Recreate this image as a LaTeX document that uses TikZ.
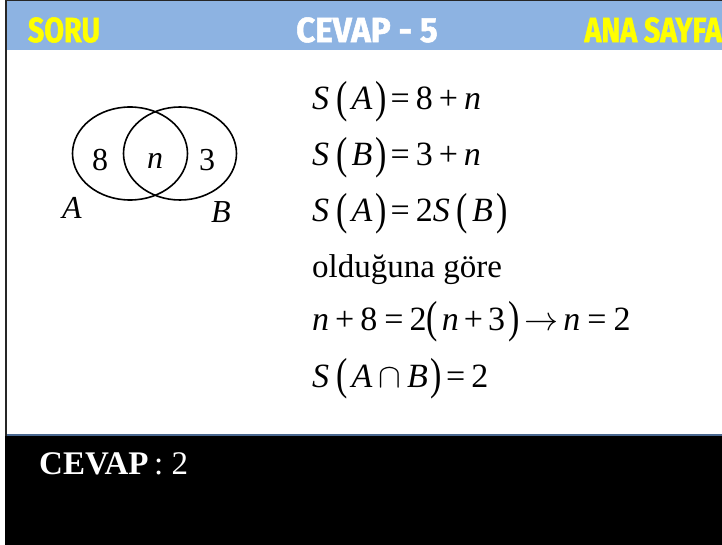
\RequirePackage{fix-cm}
\documentclass[tikz,border=0pt]{standalone}
\usepackage{graphicx}
\usepackage{fontspec}
\setmainfont{Liberation Serif}
\newfontfamily\headfont{Fira Sans}[FakeStretch=0.95, FakeBold=1.5]
\usetikzlibrary{shapes.geometric}

\definecolor{barblue}{HTML}{8DB3E2}
\definecolor{ruleblue}{HTML}{4A6890}
\definecolor{headyellow}{HTML}{FFFF00}

% büyük parantezler ve küçük boşluk
\newcommand{\lpar}{\raisebox{-2.5pt}{\scalebox{1}[1.32]{(}}}
\newcommand{\rpar}{\raisebox{-2.5pt}{\scalebox{1}[1.32]{)}}}
\newcommand{\vi}[1]{\textit{#1}}
\newcommand{\bs}[1]{\kern#1pt}
\newcommand{\dar}[1]{\scalebox{0.86}[1]{#1}}

\begin{document}
\begin{tikzpicture}[x=1pt, y=-1pt,
    head/.style={inner sep=0, font=\headfont\bfseries\fontsize{35}{40}\selectfont},
    venn/.style={ellipse, draw, line width=1.6pt, inner sep=0,
        minimum width=115pt, minimum height=93pt},
    venlab/.style={inner sep=0, font=\fontsize{32}{38}\selectfont},
    eq/.style={anchor=base west, inner sep=0, font=\fontsize{34}{40}\selectfont}]
    \useasboundingbox (0,0) rectangle (722,545);

    % Üst şerit ve çerçeve
    \fill[barblue] (7,0) rectangle (722,50);
    \fill[black!85] (5,0) rectangle (722,1);
    \fill[black!85] (5,0) rectangle (7,436);
    \fill[ruleblue] (7,434) rectangle (722,436);
    \fill[black] (5,436) rectangle (722,545);

    \node[head, text=headyellow] (soru) at (64,30) {\dar{SORU}};
    \node[head, text=white] (cevapno) at (367,30) {CEVAP - 5};
    \node[head, text=headyellow, anchor=east] (anasayfa) at (722,30) {\dar{ANA SAYFA}};

    % Venn şeması
    \node[venn] (setA) at (130,153.5) {};
    \node[venn, minimum width=113pt] (setB) at (180,153.5) {};
    \node[venlab] (sekiz) at (100,160) {8};
    \node[venlab] (kesisim) at (155,161) {\vi{n}};
    \node[venlab] (uc) at (207,160) {3};
    \node[venlab] (etA) at (72,208) {\vi{A}};
    \node[venlab] (etB) at (221,212) {\vi{B}};

    % Çözüm adımları
    \node[eq] (satir1) at (312,110)
        {\vi{S}\bs7\lpar\bs4\vi{A}\bs3\rpar\bs4=\bs6 8\bs6+\bs6\vi{n}};
    \node[eq] (satir2) at (312,166)
        {\vi{S}\bs7\lpar\bs4\vi{B}\bs3\rpar\bs4=\bs6 3\bs6+\bs6\vi{n}};
    \node[eq] (satir3) at (312,222)
        {\vi{S}\bs7\lpar\bs4\vi{A}\bs3\rpar\bs4=\bs6 2\vi{S}\bs7\lpar\bs4\vi{B}\bs3\rpar};
    \node[eq, font=\fontsize{33}{40}\selectfont] (satir4) at (312,277) {olduğuna göre};
    \node[eq] (satir5) at (312,330)
        {\vi{n}\bs6+\bs6 8\bs7=\bs6 2\lpar\bs4\vi{n}\bs5+\bs5 3\bs3\rpar\bs5$\rightarrow$\bs5\vi{n}\bs7=\bs7 2};
    \node[eq] (satir6) at (312,387)
        {\vi{S}\bs7\lpar\bs4\vi{A}\bs6$\cap$\bs6\vi{B}\bs3\rpar\bs4=\bs6 2};

    % Cevap
    \node[anchor=base west, inner sep=0, text=white, font=\fontsize{33}{38}\selectfont]
        (cevap) at (39,474) {\textbf{CEVAP}\,: 2};
\end{tikzpicture}
\end{document}
